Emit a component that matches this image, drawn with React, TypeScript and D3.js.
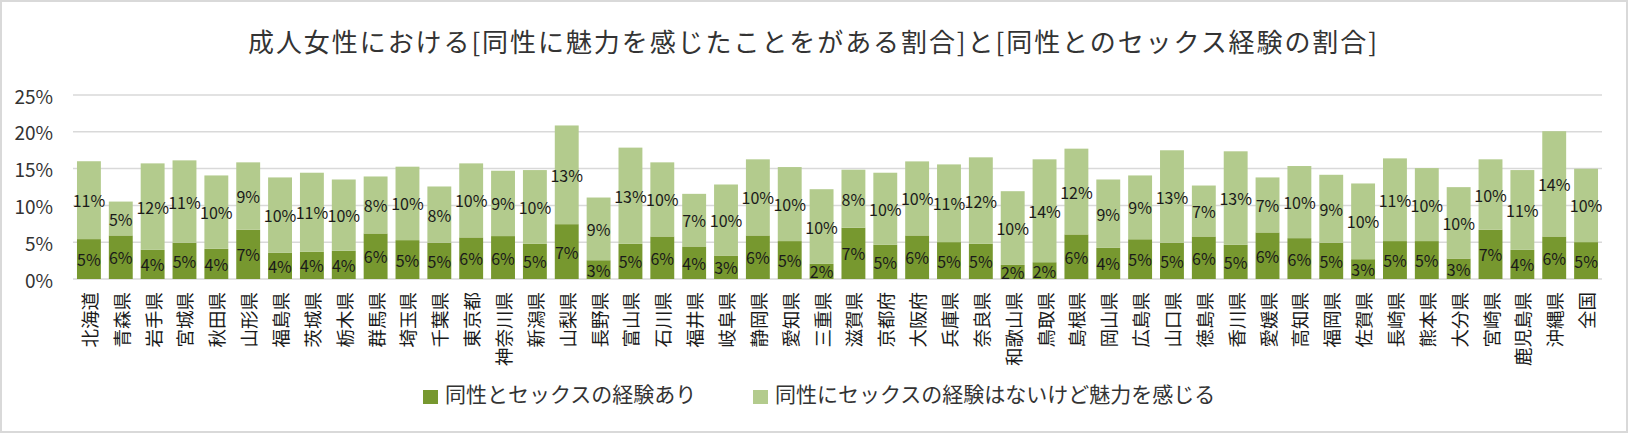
import React from "react";
import * as d3 from "d3";

const title = "成人女性における[同性に魅力を感じたことをがある割合]と[同性とのセックス経験の割合]";

const prefectures = [
  "北海道", "青森県", "岩手県", "宮城県", "秋田県", "山形県", "福島県", "茨城県", "栃木県", "群馬県",
  "埼玉県", "千葉県", "東京都", "神奈川県", "新潟県", "山梨県", "長野県", "富山県", "石川県", "福井県",
  "岐阜県", "静岡県", "愛知県", "三重県", "滋賀県", "京都府", "大阪府", "兵庫県", "奈良県", "和歌山県",
  "鳥取県", "島根県", "岡山県", "広島県", "山口県", "徳島県", "香川県", "愛媛県", "高知県", "福岡県",
  "佐賀県", "長崎県", "熊本県", "大分県", "宮崎県", "鹿児島県", "沖縄県", "全国",
];

// 同性とセックスの経験あり (%)
const experienced = [
  5.42, 5.92, 3.96, 4.92, 4.10, 6.69, 3.55, 3.69, 3.83, 6.19,
  5.28, 4.92, 5.65, 5.83, 4.78, 7.45, 2.55, 4.78, 5.78, 4.42,
  3.19, 5.92, 5.15, 2.05, 6.97, 4.64, 5.92, 5.01, 4.78, 1.91,
  2.28, 6.06, 4.23, 5.40, 4.92, 5.78, 4.64, 6.33, 5.55, 4.92,
  2.69, 5.15, 5.15, 2.78, 6.69, 3.96, 5.78, 5.01,
];

// 同性にセックスの経験はないけど魅力を感じる (%)
const attractedOnly = [
  10.58, 4.60, 11.75, 11.20, 9.97, 9.16, 10.25, 10.75, 9.69, 7.74,
  9.98, 7.65, 10.06, 8.88, 10.02, 13.41, 8.52, 13.07, 10.07, 7.15,
  9.65, 10.34, 10.06, 10.15, 7.88, 9.80, 10.06, 10.56, 11.75, 10.02,
  13.98, 11.65, 9.29, 8.67, 12.57, 6.92, 12.71, 7.47, 9.80, 9.24,
  10.29, 11.24, 9.92, 9.70, 9.57, 10.84, 14.30, 9.97,
];

const yTicks = [0, 5, 10, 15, 20, 25];

const seriesNames = ["同性とセックスの経験あり", "同性にセックスの経験はないけど魅力を感じる"];
const seriesColors = ["#77982F", "#B3CB8D"];

const W = 1628;
const H = 433;
const plotLeft = 73;
const plotRight = 1602;
const plotTop = 95;
const plotBottom = 279;
const FONT = "'Noto Sans CJK JP', 'Noto Sans', sans-serif";

export default function App() {
  const x = d3.scaleBand<string>().domain(prefectures).range([plotLeft, plotRight]).paddingInner(0.25).paddingOuter(0.125);
  const y = d3.scaleLinear().domain([0, 25]).range([plotBottom, plotTop]);
  const fmt = (v: number) => d3.format(".0%")(v / 100);

  const rows = prefectures.map((p, i) => ({ p, a: experienced[i], b: attractedOnly[i] }));
  const stack = d3.stack<any>().keys(["a", "b"])(rows as any);

  return (
    <svg width={W} height={H} style={{ position: "absolute", left: 0, top: 0, background: "#fff" }} fontFamily={FONT}>
      <rect x={1} y={1} width={W - 2} height={H - 2} fill="#fff" stroke="#D9D9D9" strokeWidth={2} />
      <text x={812.5} y={40} textAnchor="middle" dominantBaseline="central" fontSize={26} fill="#333" textLength={1129} lengthAdjust="spacing">
        {title}
      </text>

      {yTicks.map((t) => (
        <g key={t}>
          <line x1={plotLeft} x2={plotRight} y1={y(t)} y2={y(t)} stroke="#D9D9D9" strokeWidth={1.5} />
          <text x={53} y={y(t)} textAnchor="end" dominantBaseline="central" fontSize={19} fill="#333">
            {t}%
          </text>
        </g>
      ))}

      {stack.map((s, si) => (
        <g key={si}>
          {s.map((d: any, i: number) => (
            <rect
              key={i}
              x={x(prefectures[i])!}
              y={y(d[1])}
              width={x.bandwidth()}
              height={y(d[0]) - y(d[1])}
              fill={seriesColors[si]}
            />
          ))}
        </g>
      ))}

      {stack.map((s, si) => (
        <g key={"l" + si}>
          {s.map((d: any, i: number) => (
            <text
              key={i}
              x={x(prefectures[i])! + x.bandwidth() / 2}
              y={y((d[0] + d[1]) / 2)}
              textAnchor="middle"
              dominantBaseline="central"
              fontSize={16}
              fill="#1a1a1a"
            >
              {fmt(d[1] - d[0])}
            </text>
          ))}
        </g>
      ))}

      {prefectures.map((p) => (
        <text
          key={p}
          transform={`translate(${x(p)! + x.bandwidth() / 2},${292}) rotate(-90)`}
          textAnchor="end"
          dominantBaseline="central"
          fontSize={18.5}
          fill="#1a1a1a"
        >
          {p}
        </text>
      ))}

      <g>
        <rect x={423} y={390} width={15} height={14} fill={seriesColors[0]} />
        <text x={445} y={393} dominantBaseline="central" fontSize={21} fill="#333">
          {seriesNames[0]}
        </text>
        <rect x={753} y={390} width={15} height={14} fill={seriesColors[1]} />
        <text x={775} y={393} dominantBaseline="central" fontSize={21} fill="#333">
          {seriesNames[1]}
        </text>
      </g>
    </svg>
  );
}
